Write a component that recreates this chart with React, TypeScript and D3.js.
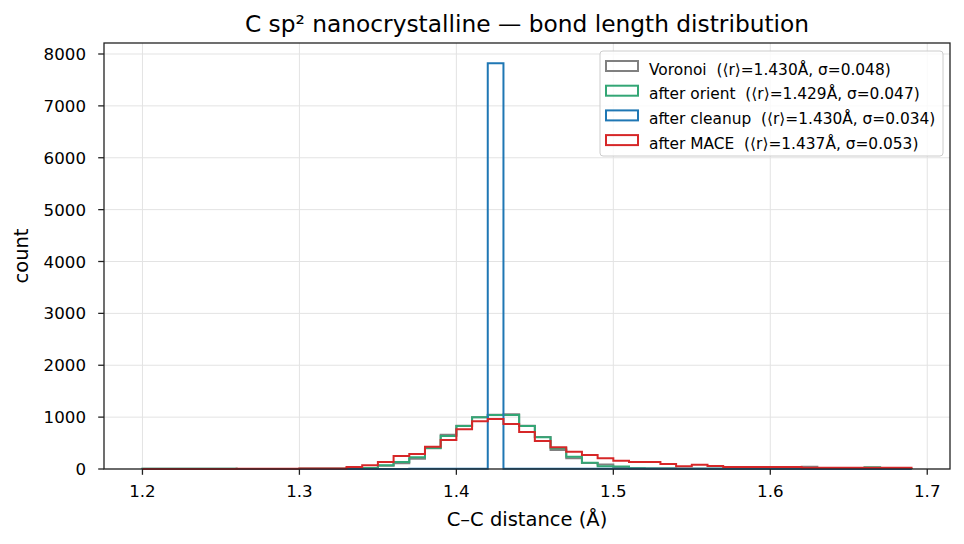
import React, { useEffect, useRef } from "react";
import * as d3 from "d3";

// histogram bin edges (Å)
const binEdges = [
  1.2, 1.21, 1.22, 1.23, 1.24, 1.25, 1.26, 1.27, 1.28, 1.29,
  1.3, 1.31, 1.32, 1.33, 1.34, 1.35, 1.36, 1.37, 1.38, 1.39,
  1.4, 1.41, 1.42, 1.43, 1.44, 1.45, 1.46, 1.47, 1.48, 1.49,
  1.5, 1.51, 1.52, 1.53, 1.54, 1.55, 1.56, 1.57, 1.58, 1.59,
  1.6, 1.61, 1.62, 1.63, 1.64, 1.65, 1.66, 1.67, 1.68, 1.69,
];

// counts per bin
const voronoiCounts = [
  3, 3, 3, 3, 3, 3, 2, 2, 2, 2,
  3, 4, 6, 10, 20, 65, 110, 200, 400, 661,
  835, 1000, 1045, 1054, 835, 615, 366, 206, 118, 88,
  35, 15, 10, 8, 6, 5, 5, 4, 4, 3,
  3, 3, 45, 2, 2, 2, 2, 2, 1,
];
const orientCounts = [
  3, 3, 3, 3, 3, 3, 2, 2, 2, 2,
  3, 4, 6, 10, 20, 70, 135, 225, 405, 636,
  829, 996, 1040, 1040, 829, 611, 398, 237, 121, 55,
  50, 15, 10, 8, 6, 5, 5, 4, 4, 3,
  3, 3, 3, 2, 2, 2, 35, 2, 1,
];
const cleanupCounts = [
  0, 0, 0, 0, 0, 0, 0, 0, 0, 0,
  0, 0, 0, 0, 0, 2, 2, 3, 3, 3,
  3, 3, 7821, 3, 3, 3, 3, 3, 3, 4,
  5, 5, 5, 6, 6, 6, 6, 4, 4, 4,
  3, 3, 2, 2, 2, 1, 1, 1, 0,
];
const maceCounts = [
  0, 0, 0, 0, 0, 0, 3, 4, 5, 6,
  8, 10, 12, 40, 70, 135, 250, 289, 430, 559,
  765, 919, 963, 867, 713, 540, 418, 333, 270, 206,
  160, 135, 135, 96, 52, 83, 58, 38, 38, 38,
  38, 38, 22, 22, 22, 22, 22, 22, 22,
];

const seriesLabels = [
  "Voronoi  (⟨r⟩=1.430Å, σ=0.048)",
  "after orient  (⟨r⟩=1.429Å, σ=0.047)",
  "after cleanup  (⟨r⟩=1.430Å, σ=0.034)",
  "after MACE  (⟨r⟩=1.437Å, σ=0.053)",
];
const seriesColors = ["#808080", "#33a675", "#1f77b4", "#d62728"];
const xTicks = [1.2, 1.3, 1.4, 1.5, 1.6, 1.7];
const yTicks = [0, 1000, 2000, 3000, 4000, 5000, 6000, 7000, 8000];

const FONT = "DejaVu Sans, sans-serif";

export default function App() {
  const ref = useRef<SVGSVGElement>(null);

  useEffect(() => {
    const svg = d3.select(ref.current);
    svg.selectAll("*").remove();

    const W = 964, H = 544;
    const margin = { top: 43, right: 14, bottom: 75, left: 104 };
    const w = W - margin.left - margin.right,
      h = H - margin.top - margin.bottom;

    const allCounts = [voronoiCounts, orientCounts, cleanupCounts, maceCounts];
    const lo = binEdges[0], hi = binEdges[binEdges.length - 1];
    const pad = (hi - lo) * 0.05;
    const ymax = d3.max(allCounts.flat()) as number;

    const x = d3.scaleLinear().domain([lo - pad, hi + pad]).range([0, w]);
    const y = d3.scaleLinear().domain([0, ymax * 1.05]).range([h, 0]);

    const g = svg.append("g").attr("transform", `translate(${margin.left},${margin.top})`);

    // grid
    g.selectAll(".vgrid").data(xTicks).join("line").attr("class", "vgrid")
      .attr("x1", d => x(d)).attr("x2", d => x(d))
      .attr("y1", 0).attr("y2", h)
      .attr("stroke", "#e3e3e3").attr("stroke-width", 1);
    g.selectAll(".hgrid").data(yTicks).join("line").attr("class", "hgrid")
      .attr("x1", 0).attr("x2", w)
      .attr("y1", d => y(d)).attr("y2", d => y(d))
      .attr("stroke", "#e3e3e3").attr("stroke-width", 1);

    // step outlines
    const line = d3.line<[number, number]>().x(d => x(d[0])).y(d => y(d[1]));
    allCounts.forEach((counts, k) => {
      const pts: [number, number][] = [[binEdges[0], 0]];
      counts.forEach((c, i) => {
        pts.push([binEdges[i], c]);
        pts.push([binEdges[i + 1], c]);
      });
      pts.push([binEdges[counts.length], 0]);
      g.append("path").attr("d", line(pts))
        .attr("fill", "none")
        .attr("stroke", seriesColors[k])
        .attr("stroke-width", 2)
        .attr("stroke-linejoin", "miter");
    });

    // spines
    g.append("rect").attr("x", 0).attr("y", 0).attr("width", w).attr("height", h)
      .attr("fill", "none").attr("stroke", "#222").attr("stroke-width", 1.3);

    // x ticks
    g.selectAll(".xt").data(xTicks).join("line").attr("class", "xt")
      .attr("x1", d => x(d)).attr("x2", d => x(d))
      .attr("y1", h).attr("y2", h + 5.8)
      .attr("stroke", "#222").attr("stroke-width", 1.3);
    g.selectAll(".xtl").data(xTicks).join("text").attr("class", "xtl")
      .attr("x", d => x(d)).attr("y", h + 27.5)
      .attr("text-anchor", "middle")
      .style("font-family", FONT).style("font-size", "16.67px")
      .text(d => d3.format(".1f")(d));

    // y ticks
    g.selectAll(".yt").data(yTicks).join("line").attr("class", "yt")
      .attr("x1", -5.8).attr("x2", 0)
      .attr("y1", d => y(d)).attr("y2", d => y(d))
      .attr("stroke", "#222").attr("stroke-width", 1.3);
    g.selectAll(".ytl").data(yTicks).join("text").attr("class", "ytl")
      .attr("x", -18).attr("y", d => y(d) + 6)
      .attr("text-anchor", "end")
      .style("font-family", FONT).style("font-size", "16.67px")
      .text(d => String(d));

    // labels
    g.append("text").attr("x", w / 2).attr("y", h + 57)
      .attr("text-anchor", "middle")
      .style("font-family", FONT).style("font-size", "19.5px")
      .text("C–C distance (Å)");
    g.append("text")
      .attr("transform", `translate(${-76},${h / 2}) rotate(-90)`)
      .attr("text-anchor", "middle")
      .style("font-family", FONT).style("font-size", "19.5px")
      .text("count");
    g.append("text").attr("x", w / 2).attr("y", -11)
      .attr("text-anchor", "middle")
      .style("font-family", FONT).style("font-size", "23.3px")
      .text("C sp² nanocrystalline — bond length distribution");

    // legend
    const lg = g.append("g").attr("transform", `translate(${600 - margin.left},${51 - margin.top})`);
    lg.append("rect").attr("x", 0).attr("y", 0).attr("width", 343).attr("height", 105)
      .attr("rx", 3).attr("fill", "white").attr("fill-opacity", 0.8)
      .attr("stroke", "#cccccc").attr("stroke-width", 1);
    seriesLabels.forEach((lab, k) => {
      const ry = 10 + k * 24.7;
      lg.append("rect").attr("x", 6).attr("y", ry).attr("width", 32).attr("height", 10)
        .attr("fill", "none").attr("stroke", seriesColors[k]).attr("stroke-width", 2);
      lg.append("text").attr("x", 49).attr("y", ry + 13.5)
        .style("font-family", FONT).style("font-size", "15.4px")
        .style("white-space", "pre")
        .text(lab);
    });
  }, []);

  return (
    <svg ref={ref} width={964} height={544}
      style={{ position: "absolute", left: 0, top: 0, background: "white" }} />
  );
}
